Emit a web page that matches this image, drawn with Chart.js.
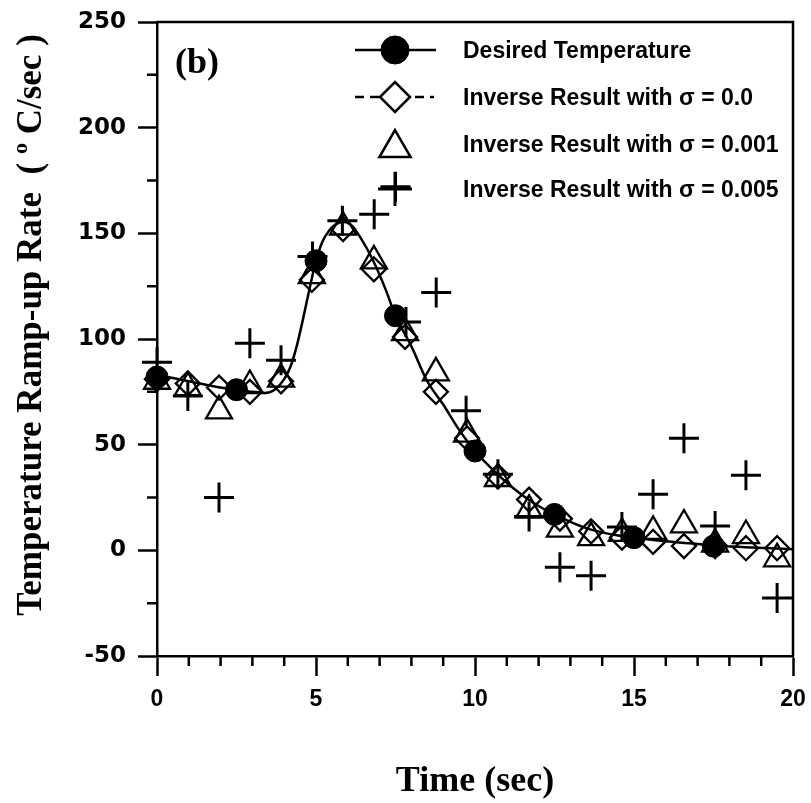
<!DOCTYPE html>
<html>
<head>
<meta charset="utf-8">
<script src="https://cdn.jsdelivr.net/npm/chart.js@4.4.1/dist/chart.umd.min.js"></script>
<style>
html, body { margin: 0; padding: 0; background: #fff; }
#wrap { width: 811px; height: 803px; }
</style>
</head>
<body>
<div id="wrap"><canvas id="rampChart" width="811" height="803"></canvas></div>
<script>
// smooth desired curve
var curveTime = [0, 0.5, 1, 1.5, 2, 2.5, 3, 3.4, 3.7, 4.0, 4.2, 4.4, 4.6, 4.8, 5.0, 5.2, 5.4, 5.6, 5.85, 6.1, 6.4, 6.8, 7.2, 7.5, 8.0, 8.5, 9.0, 9.5, 10, 10.5, 11, 11.5, 12, 12.5, 13, 13.5, 14, 14.5, 15, 16, 17, 17.5, 18.5, 20];
var curveRate = [83, 81.5, 80, 78.5, 77, 76, 75, 74.5, 76, 81, 87, 97, 110, 124, 137, 146, 151, 154, 155.5, 154, 148, 137, 123, 111, 96.5, 80, 69, 57, 47, 39, 32, 26, 21, 17, 13.5, 10.5, 8.5, 7, 6, 4.3, 3, 2.3, 1.5, 0.5];

// filled circles on the desired curve
var desiredTime = [0, 2.5, 5, 7.5, 10, 12.5, 15, 17.5];
var desiredRate = [82, 76, 137, 111, 47, 17, 6, 2];

// inverse results (sigma = 0.0 and 0.001)
var inverseTime = [0, 0.97, 1.95, 2.92, 3.9, 4.87, 5.85, 6.82, 7.8, 8.77, 9.75, 10.72, 11.7, 12.67, 13.65, 14.62, 15.6, 16.57, 17.55, 18.52, 19.5];
var sigma0Rate = [81, 79, 77, 75, 80, 128, 152, 133, 101, 75, 53, 35, 24, 15, 9, 6, 4, 2, 2, 1, 1];
var sigma001Rate = [80, 77, 66, 78, 81, 130, 153, 137, 103, 84, 55, 34, 19, 10, 6, 8, 9, 12, 3, 7, -4];

// inverse result (sigma = 0.005)
var noisyTime = [0, 0.97, 1.95, 2.92, 3.9, 4.89, 5.83, 6.83, 7.5, 7.83, 8.78, 9.72, 10.72, 11.7, 12.67, 13.65, 14.62, 15.6, 16.57, 17.55, 18.52, 19.5];
var sigma005Rate = [89, 73, 25, 98, 90, 139, 156, 159, 172, 108, 122, 66, 36, 16, -8, -12, 11, 26.5, 53, 11.5, 35.5, -22.5];

var xTicks = [0, 5, 10, 15, 20];
var xMinorTicks = [1, 2, 3, 4, 6, 7, 8, 9, 11, 12, 13, 14, 16, 17, 18, 19];
var yTicks = [-50, 0, 50, 100, 150, 200, 250];
var yMinorTicks = [-25, 25, 75, 125, 175, 225];

var legendLabels = ['Desired Temperature', 'Inverse Result with \u03c3 = 0.0', 'Inverse Result with \u03c3 = 0.001', 'Inverse Result with \u03c3 = 0.005'];

var sansFont = "'Liberation Sans', Arial, sans-serif";
var wideFont = "'DejaVu Sans', Verdana, sans-serif";
var serifFont = "'Liberation Serif', 'Times New Roman', serif";

function pts(xs, ys){
  var out = [];
  for(var i = 0; i < xs.length; i++) out.push({ x: xs[i], y: ys[i] });
  return out;
}

// minor ticks, top/right frame, titles and the legend
var decorPlugin = {
  id: 'decor',
  afterDraw: function(chart){
    var ctx = chart.ctx;
    var a = chart.chartArea;
    var xs = chart.scales.x, ys = chart.scales.y;
    ctx.save();
    ctx.strokeStyle = '#000';
    ctx.lineWidth = 2.5;
    ctx.beginPath();
    for(var i = 0; i < xMinorTicks.length; i++){
      var px = xs.getPixelForValue(xMinorTicks[i]);
      ctx.moveTo(px, a.bottom);
      ctx.lineTo(px, a.bottom + 10);
    }
    for(var j = 0; j < yMinorTicks.length; j++){
      var py = ys.getPixelForValue(yMinorTicks[j]);
      ctx.moveTo(a.left - 10, py);
      ctx.lineTo(a.left, py);
    }
    ctx.stroke();

    ctx.beginPath();
    ctx.moveTo(a.left, a.top);
    ctx.lineTo(a.right, a.top);
    ctx.lineTo(a.right, a.bottom);
    ctx.stroke();

    // panel tag + axis titles
    ctx.fillStyle = '#000';
    ctx.font = 'bold 36px ' + serifFont;
    ctx.textAlign = 'left';
    ctx.textBaseline = 'middle';
    ctx.fillText('(b)', 175, 64);

    ctx.textAlign = 'center';
    ctx.fillText('Time (sec)', (a.left + a.right) / 2, 782);

    ctx.save();
    ctx.translate(32, 325);
    ctx.rotate(-Math.PI / 2);
    var p1 = 'Temperature Ramp-up Rate  ( ', sup = 'o', p2 = ' C/sec )';
    ctx.font = 'bold 35px ' + serifFont;
    var w1 = ctx.measureText(p1).width, w3 = ctx.measureText(p2).width;
    ctx.font = 'bold 22px ' + serifFont;
    var w2 = ctx.measureText(sup).width;
    var x0 = -(w1 + w2 + w3) / 2;
    ctx.textAlign = 'left';
    ctx.font = 'bold 35px ' + serifFont;
    ctx.fillText(p1, x0, 0);
    ctx.font = 'bold 22px ' + serifFont;
    ctx.fillText(sup, x0 + w1, -11);
    ctx.font = 'bold 35px ' + serifFont;
    ctx.fillText(p2, x0 + w1 + w2, 0);
    ctx.restore();

    // legend
    var rowY = [50, 97, 144, 189];
    var symX = 395, textX = 463;
    ctx.lineWidth = 2.5;
    ctx.beginPath();
    ctx.moveTo(355, rowY[0]); ctx.lineTo(436, rowY[0]);
    ctx.stroke();
    ctx.setLineDash([9, 6]);
    ctx.beginPath();
    ctx.moveTo(355, rowY[1]); ctx.lineTo(434, rowY[1]);
    ctx.stroke();
    ctx.setLineDash([]);

    var sym = [
      { pointStyle: 'circle', radius: 14, borderWidth: 1, fill: '#000' },
      { pointStyle: 'rectRot', radius: 15, borderWidth: 2.5, fill: '#fff' },
      { pointStyle: 'triangle', radius: 18, borderWidth: 2.5, fill: 'rgba(0,0,0,0)' },
      { pointStyle: 'cross', radius: 17, borderWidth: 3, fill: 'rgba(0,0,0,0)' }
    ];
    for(var k = 0; k < sym.length; k++){
      ctx.fillStyle = sym[k].fill;
      ctx.strokeStyle = '#000';
      ctx.lineWidth = sym[k].borderWidth;
      Chart.helpers.drawPoint(ctx, { pointStyle: sym[k].pointStyle, radius: sym[k].radius, rotation: 0, borderWidth: sym[k].borderWidth }, symX, rowY[k] + (k === 2 ? 4 : 0));
    }
    ctx.fillStyle = '#000';
    ctx.font = 'bold 23px ' + sansFont;
    ctx.textAlign = 'left';
    ctx.textBaseline = 'middle';
    for(var m = 0; m < legendLabels.length; m++) ctx.fillText(legendLabels[m], textX, rowY[m] + 2);
    ctx.restore();
  }
};

var ctx = document.getElementById('rampChart').getContext('2d');
new Chart(ctx, {
  type: 'scatter',
  data: {
    datasets: [
      { label: 'Desired Temperature', data: pts(desiredTime, desiredRate), showLine: false,
        pointStyle: 'circle', pointRadius: 11, backgroundColor: '#000', borderColor: '#000', borderWidth: 1, clip: false },
      { label: 'curve', data: pts(curveTime, curveRate), showLine: true, pointRadius: 0,
        borderColor: '#000', borderWidth: 2.5, cubicInterpolationMode: 'monotone', fill: false },
      { label: legendLabels[1], data: pts(inverseTime, sigma0Rate), showLine: false,
        pointStyle: 'rectRot', pointRadius: 12, backgroundColor: 'rgba(0,0,0,0)', borderColor: '#000', borderWidth: 2.3, clip: false },
      { label: legendLabels[2], data: pts(inverseTime, sigma001Rate), showLine: false,
        pointStyle: 'triangle', pointRadius: 15, backgroundColor: 'rgba(0,0,0,0)', borderColor: '#000', borderWidth: 2.3, clip: false },
      { label: legendLabels[3], data: pts(noisyTime, sigma005Rate), showLine: false,
        pointStyle: 'cross', pointRadius: 15, backgroundColor: 'rgba(0,0,0,0)', borderColor: '#000', borderWidth: 3, clip: false }
    ]
  },
  options: {
    responsive: false,
    animation: false,
    events: [],
    layout: { padding: { left: 0, top: 22, right: 16, bottom: 0 } },
    scales: {
      x: {
        type: 'linear', min: 0, max: 20,
        afterBuildTicks: function(s){ s.ticks = xTicks.map(function(v){ return { value: v } }) },
        afterFit: function(s){ s.height = 147; s.paddingLeft = 0; s.paddingRight = 0 },
        ticks: { color: '#000', padding: 10, font: { family: sansFont, size: 23, weight: 'bold' } },
        grid: { drawOnChartArea: false, drawTicks: true, tickLength: 20, tickWidth: 2.5, tickColor: '#000' },
        border: { display: true, color: '#000', width: 2.5 }
      },
      y: {
        type: 'linear', min: -50, max: 250,
        afterBuildTicks: function(s){ s.ticks = yTicks.map(function(v){ return { value: v } }) },
        afterFit: function(s){ s.width = 157; s.paddingTop = 0; s.paddingBottom = 0 },
        ticks: { color: '#000', padding: 12, font: { family: wideFont, size: 23, weight: 'bold' } },
        grid: { drawOnChartArea: false, drawTicks: true, tickLength: 19, tickWidth: 2.5, tickColor: '#000' },
        border: { display: true, color: '#000', width: 2.5 }
      }
    },
    plugins: { legend: { display: false }, tooltip: { enabled: false } }
  },
  plugins: [decorPlugin]
});
</script>
</body>
</html>
